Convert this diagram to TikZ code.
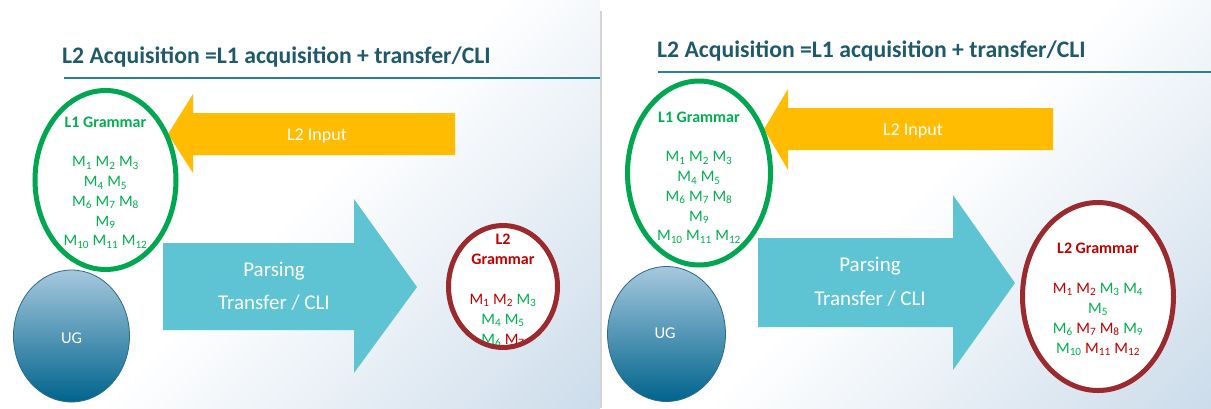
\documentclass[tikz,border=0pt]{standalone}
\usepackage{fontspec}
\setmainfont{Carlito}
\usetikzlibrary{shapes.geometric}
\definecolor{titlecol}{HTML}{1F5A6B}
\definecolor{titleline}{HTML}{2E7E96}
\definecolor{ggreen}{HTML}{00A650}
\definecolor{tgreen}{HTML}{00B050}
\definecolor{tred}{HTML}{C00000}
\definecolor{rring}{HTML}{9B2A2F}
\definecolor{arrowyellow}{HTML}{FFBC00}
\definecolor{arrowcyan}{HTML}{5EC4D3}
\definecolor{ugtop}{HTML}{A6C8DE}
\definecolor{ugbot}{HTML}{00648C}
\definecolor{ugline}{HTML}{2A6B8C}
\definecolor{bgblue}{HTML}{C6D8E8}
\definecolor{sepgray}{HTML}{D4D4D4}
\newcommand\Mg[1]{\textcolor{tgreen}{M\textsubscript{#1}}}
\newcommand\Mr[1]{\textcolor{tred}{M\textsubscript{#1}}}
\tikzset{
  titletext/.style={font=\fontsize{23.7}{28}\selectfont\bfseries, text=titlecol, anchor=base west, inner sep=0pt},
  titlerule/.style={draw=titleline, line width=1.3pt},
  l1ring/.style={ellipse, draw=ggreen, line width=5pt, fill=white, inner sep=0pt},
  l2ring/.style={ellipse, draw=rring, line width=5pt, fill=white, inner sep=0pt},
  ugball/.style={ellipse, draw=ugline, line width=0.8pt, top color=ugtop, bottom color=ugbot, inner sep=0pt},
  ringtext/.style={font=\fontsize{16}{19.8}\selectfont, align=center, anchor=north, inner sep=0pt},
  inputlabel/.style={font=\fontsize{18}{22}\selectfont, text=white, anchor=base, inner sep=0pt},
  parselabel/.style={font=\fontsize{21}{25}\selectfont, text=white, anchor=base, inner sep=0pt},
  uglabel/.style={font=\fontsize{16.5}{19}\selectfont, text=white, anchor=base, inner sep=0pt},
  yellowarrow/.style={fill=arrowyellow},
  cyanarrow/.style={fill=arrowcyan},
  slideshade/.style={top color=white, bottom color=bgblue, middle color=white}
}
\begin{document}
\begin{tikzpicture}[x=1pt,y=-1pt]
\useasboundingbox (0,0) rectangle (1211,408);
\fill[white] (0,0) rectangle (1211,408);
% backgrounds
\begin{scope}
  \clip (0,0) rectangle (600,408);
  \begin{scope}[transform canvas={rotate around={45:(300,204)}}]
    \shade[slideshade] (-100,-196) rectangle (700,604);
  \end{scope}
\end{scope}
\begin{scope}
  \clip (602,0) rectangle (1211,408);
  \begin{scope}[transform canvas={rotate around={45:(906.5,204)}}]
    \shade[slideshade] (506.5,-196) rectangle (1306.5,604);
  \end{scope}
\end{scope}
\draw[sepgray, line width=1.2pt] (601,11) -- (601,408);

% ===== left slide =====
\node[titletext] (ta) at (62,63) {L2 Acquisition =L1 acquisition + transfer/CLI};
\coordinate (ra1) at (64,78);
\coordinate (ra2) at (600,78);
\draw[titlerule] (ra1) -- (ra2);

\fill[yellowarrow] (455,113) -- (193,113) -- (193,94) -- (168,134) -- (193,173) -- (193,155) -- (455,155) -- cycle;
\node[inputlabel] (ina) at (317,140) {L2 Input};

\fill[cyanarrow] (163,243) -- (354,243) -- (354,199) -- (417,287) -- (354,373) -- (354,330) -- (163,330) -- cycle;
\node[parselabel] (pa) at (274,276) {Parsing};
\node[parselabel] (tra) at (274,309.5) {Transfer / CLI};

\node[ugball, minimum width=116pt, minimum height=132pt] (uga) at (71.5,336) {};
\node[uglabel] (ugla) at (71.5,343.3) {UG};

\node[l1ring, minimum width=141pt, minimum height=179pt] (l1a) at (105.5,180) {};
\node[ringtext, text=tgreen] (l1at) at (105.5,116.5)
  {\textbf{L1 Grammar}\\[19.8pt] \Mg1 \Mg2 \Mg3\\ \Mg4 \Mg5\\ \Mg6 \Mg7 \Mg8\\ \Mg9\\ \Mg{10} \Mg{11} \Mg{12}};

\node[l2ring, minimum width=109pt, minimum height=122pt] (l2a) at (503,286.5) {};
\begin{scope}
  \clip (l2a.center) ellipse [x radius=52pt, y radius=58.5pt];
  \node[ringtext, text=tred, font=\fontsize{16}{20}\selectfont] (l2at) at (503,233.5)
    {\textbf{L2}\\ \textbf{Grammar}\\[20pt] \Mr1 \Mr2 \Mg3\\ \Mg4 \Mg5\\ \Mg6 \Mr7};
\end{scope}

% ===== right slide =====
\node[titletext] (tb) at (657,57) {L2 Acquisition =L1 acquisition + transfer/CLI};
\coordinate (rb1) at (658,72);
\coordinate (rb2) at (1211,72);
\draw[titlerule] (rb1) -- (rb2);

\fill[yellowarrow] (1053,108) -- (788,108) -- (788,89) -- (764,129) -- (788,170) -- (788,150) -- (1053,150) -- cycle;
\node[inputlabel] (inb) at (913,135) {L2 Input};

\fill[cyanarrow] (758,238) -- (953,238) -- (953,195) -- (1015,283) -- (953,370) -- (953,327) -- (758,327) -- cycle;
\node[parselabel] (pb) at (870,271.7) {Parsing};
\node[parselabel] (trb) at (870,305) {Transfer / CLI};

\node[ugball, minimum width=118pt, minimum height=135pt] (ugb) at (666.5,334) {};
\node[uglabel] (uglb) at (665,338.8) {UG};

\node[l1ring, minimum width=143pt, minimum height=184pt] (l1b) at (699,173) {};
\node[ringtext, text=tgreen] (l1bt) at (699,111.5)
  {\textbf{L1 Grammar}\\[19.8pt] \Mg1 \Mg2 \Mg3\\ \Mg4 \Mg5\\ \Mg6 \Mg7 \Mg8\\ \Mg9\\ \Mg{10} \Mg{11} \Mg{12}};

\node[l2ring, minimum width=151pt, minimum height=188pt] (l2b) at (1098,296.5) {};
\node[ringtext, font=\fontsize{16}{20}\selectfont] (l2bt) at (1098,242.7)
  {\textcolor{tred}{\textbf{L2 Grammar}}\\[20pt] \Mr1 \Mr2 \Mg3 \Mg4\\ \Mg5\\ \Mg6 \Mr7 \Mr8 \Mg9\\ \Mg{10} \Mr{11} \Mr{12}};
\end{tikzpicture}
\end{document}
